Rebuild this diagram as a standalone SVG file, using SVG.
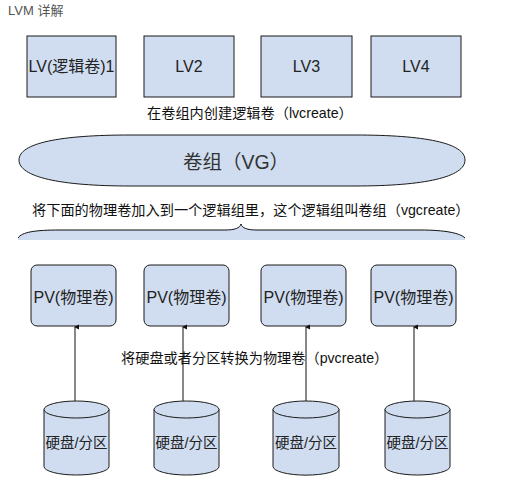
<svg xmlns="http://www.w3.org/2000/svg" width="512" height="499" viewBox="0 0 512 499">
<defs>
<style>
.t{font-family:"Liberation Sans","Noto Sans CJK SC",sans-serif;fill:#222}
.box{fill:#D0DDF0;stroke:#1a1a1a;stroke-width:1}
.lbl{font-size:14.2px;fill:#111}
.big{font-size:16px;text-anchor:middle}
.ln{stroke:#111;stroke-width:1;fill:none}
</style>
<marker id="ah" viewBox="0 0 6 6" refX="3" refY="1" markerWidth="6" markerHeight="6" orient="auto-start-reverse" markerUnits="userSpaceOnUse">
<path d="M0.5,5 L3,0 L5.5,5 Z" fill="#111"/>
</marker>
</defs>
<rect width="512" height="499" fill="#fff"/>
<text class="t" x="8" y="15" style="font-size:13px;fill:#555">LVM 详解</text>

<g id="lv1"><rect class="box" x="27" y="36" width="89" height="61"/><text class="t big" x="71.5" y="72">LV(逻辑卷)1</text></g>
<g id="lv2"><rect class="box" x="144" y="36" width="90" height="61"/><text class="t big" x="189" y="72">LV2</text></g>
<g id="lv3"><rect class="box" x="261" y="36" width="91" height="61"/><text class="t big" x="306.5" y="72">LV3</text></g>
<g id="lv4"><rect class="box" x="371" y="36" width="90" height="61"/><text class="t big" x="416" y="72">LV4</text></g>

<text class="t lbl" x="147" y="118">在卷组内创建逻辑卷（lvcreate）</text>

<g id="vg">
<path class="box" d="M19,160 C19,143 60,135 130,135 H355 C425,135 465,143 465,160 C465,177 425,186 355,186 H130 C60,186 19,177 19,160 Z"/>
<text class="t" x="236" y="169" style="font-size:19.5px;text-anchor:middle;fill:#333">卷组（VG）</text>
</g>

<text class="t lbl" x="32" y="215">将下面的物理卷加入到一个逻辑组里，这个逻辑组叫卷组（vgcreate）</text>

<g id="brace">
<path d="M18,238 C22,232 35,230 60,230 H225 C235,230 240,228 241,224 C242,228 247,230 257,230 H420 C445,230 460,233 465,238 V240 H18 Z" fill="#D0DDF0"/>
<path class="ln" d="M18,238 C22,232 35,230 60,230 H225 C235,230 240,228 241,224 C242,228 247,230 257,230 H420 C445,230 460,233 465,238"/>
</g>

<g id="pv1"><rect class="box" x="31" y="265" width="85" height="61" rx="6"/><text class="t big" x="73.5" y="303">PV(物理卷)</text></g>
<g id="pv2"><rect class="box" x="144" y="265" width="85" height="61" rx="6"/><text class="t big" x="186.5" y="303">PV(物理卷)</text></g>
<g id="pv3"><rect class="box" x="261" y="265" width="85" height="61" rx="6"/><text class="t big" x="303.5" y="303">PV(物理卷)</text></g>
<g id="pv4"><rect class="box" x="371" y="265" width="85" height="61" rx="6"/><text class="t big" x="413.5" y="303">PV(物理卷)</text></g>

<g id="connectors">
<line class="ln" x1="75" y1="401" x2="75" y2="327" marker-end="url(#ah)"/>
<line class="ln" x1="183" y1="401" x2="183" y2="327" marker-end="url(#ah)"/>
<line class="ln" x1="306" y1="401" x2="306" y2="327" marker-end="url(#ah)"/>
<line class="ln" x1="414" y1="401" x2="414" y2="327" marker-end="url(#ah)"/>
</g>

<text class="t lbl" x="121" y="363">将硬盘或者分区转换为物理卷（pvcreate）</text>

<g id="disk1"><path class="box" d="M44,409.5 V466.5 A32.5,8.5 0 0 0 109,466.5 V409.5"/><ellipse class="box" cx="76.5" cy="409.5" rx="32.5" ry="8.5"/><text class="t" x="76.5" y="448" style="font-size:14.5px;text-anchor:middle">硬盘/分区</text></g>
<g id="disk2"><path class="box" d="M154,409.5 V466.5 A32.5,8.5 0 0 0 219,466.5 V409.5"/><ellipse class="box" cx="186.5" cy="409.5" rx="32.5" ry="8.5"/><text class="t" x="186.5" y="448" style="font-size:14.5px;text-anchor:middle">硬盘/分区</text></g>
<g id="disk3"><path class="box" d="M273,409.5 V466.5 A32.5,8.5 0 0 0 339,466.5 V409.5"/><ellipse class="box" cx="306" cy="409.5" rx="33" ry="8.5"/><text class="t" x="306" y="448" style="font-size:14.5px;text-anchor:middle">硬盘/分区</text></g>
<g id="disk4"><path class="box" d="M385,409.5 V466.5 A32.5,8.5 0 0 0 450,466.5 V409.5"/><ellipse class="box" cx="417.5" cy="409.5" rx="32.5" ry="8.5"/><text class="t" x="417.5" y="448" style="font-size:14.5px;text-anchor:middle">硬盘/分区</text></g>
</svg>
